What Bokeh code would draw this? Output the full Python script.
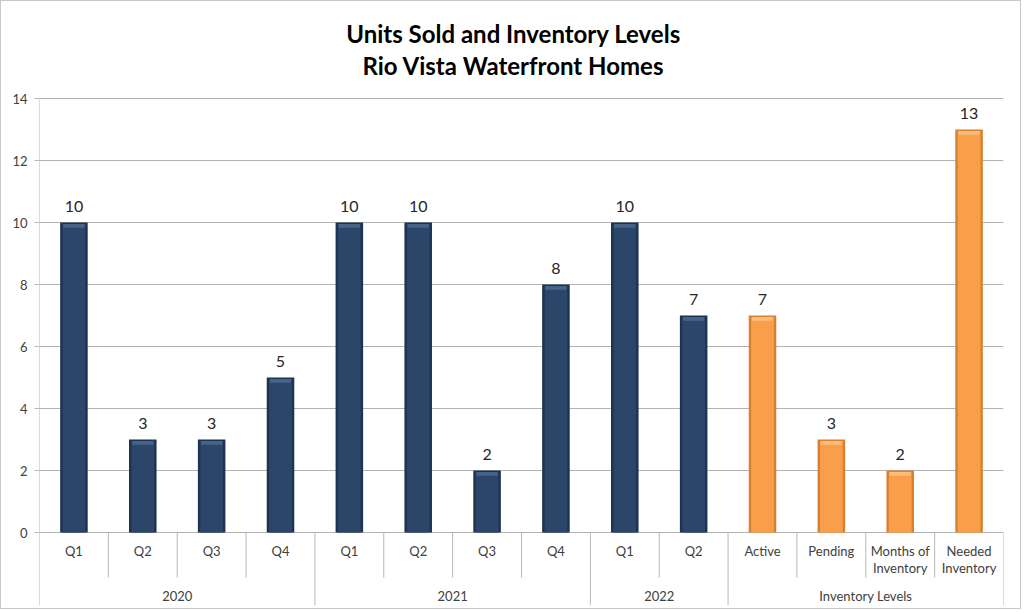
from bokeh.plotting import figure
from bokeh.models import FactorRange, Range1d, LinearAxis, FixedTicker, ColumnDataSource
from bokeh.core.properties import value
from bokeh.embed import file_html
from bokeh.resources import INLINE

# ---- data ----
groups = ["2020", "2020", "2020", "2020", "2021", "2021", "2021", "2021",
          "2022", "2022", "Inventory Levels", "Inventory Levels", "Inventory Levels", "Inventory Levels"]
subs = ["Q1", "Q2", "Q3", "Q4", "Q1", "Q2", "Q3", "Q4", "Q1", "Q2",
        "Active", "Pending", "Months of\nInventory", "Needed\nInventory"]
values = [10, 3, 3, 5, 10, 10, 2, 8, 10, 7, 7, 3, 2, 13]
kinds = ["sold"] * 10 + ["inv"] * 4
y_ticks = [0, 2, 4, 6, 8, 10, 12, 14]
title_lines = ["Units Sold and Inventory Levels", "Rio Vista Waterfront Homes"]

FONT = "Lato"
factors = [(g, s) for g, s in zip(groups, subs)]

edge = {"sold": "#1d3350", "inv": "#d9802f"}
main = {"sold": "#2c4669", "inv": "#f99f4c"}
bevel = {"sold": "#4f6d96", "inv": "#fdc68a"}

W, H = 1021, 609
top_space, left_border, right_border, bottom_border = 97, 38, 19, 5
px_per_unit = 434 / 14.0
ymax_axis = max(y_ticks)
ymin = -(H - top_space - bottom_border) / px_per_unit + ymax_axis
ymax = ymax_axis + top_space / px_per_unit

p = figure(width=W, height=H, output_backend="svg", toolbar_location=None,
           x_range=FactorRange(*factors, factor_padding=0, group_padding=0, range_padding=0),
           y_range=Range1d(ymin, ymax),
           min_border_left=left_border, min_border_right=right_border,
           min_border_top=0, min_border_bottom=bottom_border,
           x_axis_location=None, y_axis_location=None)
p.outline_line_color = None
p.background_fill_color = "white"
p.border_fill_color = "white"
p.styles = {"border": "1px solid #c8c8c8"}

yaxis = LinearAxis(ticker=FixedTicker(ticks=y_ticks))
yaxis.axis_line_color = None
yaxis.major_tick_line_color = "#b7b7b7"
yaxis.major_tick_out = 5
yaxis.major_tick_in = 0
yaxis.minor_tick_line_color = None
yaxis.major_label_standoff = 7
yaxis.major_label_text_font = FONT
yaxis.major_label_text_font_size = "13px"
yaxis.major_label_text_color = "#404040"
p.add_layout(yaxis, "left")

p.xgrid.visible = False
p.ygrid.ticker = FixedTicker(ticks=y_ticks)
p.ygrid.grid_line_color = "#b3b3b3"
p.ygrid.grid_line_width = 1

# ---- bars ----
src = ColumnDataSource(dict(
    x=factors, top=values,
    edge=[edge[k] for k in kinds], main=[main[k] for k in kinds], bevel=[bevel[k] for k in kinds],
    inner_top=[v - 0.05 for v in values],
    bevel_bottom=[v - 0.17 for v in values],
    label=[str(v) for v in values],
))
p.vbar(x="x", top="top", bottom=0, width=0.40, fill_color="edge", line_color=None, source=src)
p.vbar(x="x", top="inner_top", bottom=0, width=0.33, fill_color="main", line_color=None, source=src)
p.vbar(x="x", top="inner_top", bottom="bevel_bottom", width=0.31, fill_color="bevel",
       fill_alpha=0.75, line_color=None, source=src)

p.text(x="x", y="top", text="label", source=src, text_align="center", text_baseline="bottom",
       y_offset=-11, text_font=value(FONT), text_font_size="16px", text_color="#262626")

# ---- value axis line and category table below axis ----
first = factors[0]
p.segment(x0=[(first[0], first[1], -0.5)], y0=[ymax_axis], x1=[(first[0], first[1], -0.5)], y1=[ymin],
          line_color="#b7b7b7", line_width=1)

row1_bottom = -45 / px_per_unit
label_top = -10 / px_per_unit
group_label_mid = -63 / px_per_unit

sep_x, sep_y1 = [], []
for i, f in enumerate(factors):
    is_group_end = (i == len(factors) - 1) or (groups[i + 1] != groups[i])
    sep_x.append((f[0], f[1], 0.5))
    sep_y1.append(ymin if is_group_end else row1_bottom)
p.segment(x0=sep_x, y0=[0] * len(sep_x), x1=sep_x, y1=sep_y1, line_color="#b7b7b7", line_width=1)

p.text(x=factors, y=[label_top] * len(factors), text=subs, text_align="center", text_baseline="top",
       text_font=value(FONT), text_font_size="13px", text_color="#404040", text_line_height=1.1)

uniq_groups = []
for g in groups:
    if g not in uniq_groups:
        uniq_groups.append(g)
p.text(x=uniq_groups, y=[group_label_mid] * len(uniq_groups), text=uniq_groups,
       text_align="center", text_baseline="middle",
       text_font=value(FONT), text_font_size="13px", text_color="#404040")

# ---- title (two centred lines near the top) ----
mid = factors[len(factors) // 2 - 1]
title_x = (mid[0], mid[1], 0.5)
p.text(x=[title_x, title_x], y=[ymax, ymax], text=title_lines,
       x_offset=-8, y_offset=[32, 64],
       text_align="center", text_baseline="middle",
       text_font=value(FONT), text_font_size="24px", text_font_style="bold", text_color="#000000")

open("out.html", "w").write(file_html(p, INLINE))
